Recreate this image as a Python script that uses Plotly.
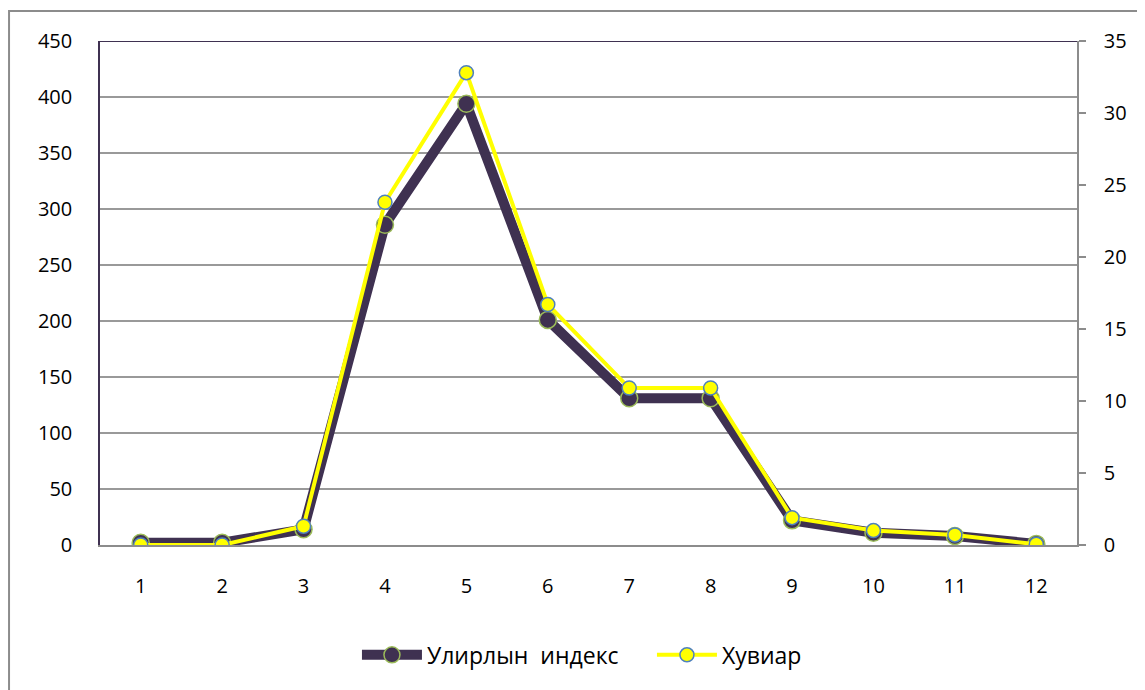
import plotly.graph_objects as go

categories = [1, 2, 3, 4, 5, 6, 7, 8, 9, 10, 11, 12]
index_values = [2, 2, 14, 286, 394, 201, 131, 131, 22, 11, 8, 1]
percent_values = [0.0, 0.0, 1.3, 23.8, 32.8, 16.7, 10.9, 10.9, 1.9, 1.0, 0.7, 0.05]
left_ticks = [0, 50, 100, 150, 200, 250, 300, 350, 400, 450]
right_ticks = [0, 5, 10, 15, 20, 25, 30, 35]

FONT = "'Open Sans', Lato, sans-serif"
DARK = "#3F3151"

fig = go.Figure()
fig.add_trace(go.Scatter(
    x=categories, y=index_values, name="Улирлын  индекс", mode="lines+markers",
    line=dict(color=DARK, width=10),
    marker=dict(size=17, color=DARK, line=dict(color="#9BBB59", width=1.5)),
    yaxis="y",
))
fig.add_trace(go.Scatter(
    x=categories, y=percent_values, name="Хувиар", mode="lines+markers",
    line=dict(color="#FFFF00", width=4),
    marker=dict(size=14, color="#FFFF00", line=dict(color="#4F81BD", width=1.5)),
    yaxis="y2",
))

fig.update_layout(
    width=1145, height=690,
    margin=dict(l=92, r=76, t=33, b=153),
    paper_bgcolor="white", plot_bgcolor="white",
    font=dict(family=FONT, size=20, color="black"),
    showlegend=True,
    legend=dict(orientation="h", x=0.263, xanchor="left", y=-0.218, yanchor="middle",
                font=dict(size=23), itemwidth=60, traceorder="normal",
                entrywidth=220, entrywidthmode="pixels"),
    xaxis=dict(range=[0.5, 12.5], tickvals=categories, ticktext=[str(c) for c in categories],
               showgrid=False, zeroline=False, showline=True, linecolor="#8C8C8C", linewidth=1.5,
               ticks="", ticklabelstandoff=22),
    yaxis=dict(range=[0, 450], tickvals=left_ticks, showgrid=True, gridcolor="#999999", gridwidth=1.5,
               zeroline=False, showline=True, linecolor=DARK, linewidth=1.5, ticks="",
               ticklabelstandoff=22),
    yaxis2=dict(range=[0, 35], tickvals=right_ticks, overlaying="y", side="right", showgrid=False,
                zeroline=False, showline=True, linecolor="#8C8C8C", linewidth=1.5,
                ticks="outside", ticklen=7, tickcolor="#8C8C8C", tickwidth=1.5,
                ticklabelstandoff=14),
    shapes=[
        dict(type="line", xref="paper", yref="y", x0=0, x1=1, y0=450, y1=450,
             line=dict(color=DARK, width=2), layer="between"),
        dict(type="rect", xref="paper", yref="paper", x0=-0.0931, x1=1.0645, y0=-0.32, y1=1.0595,
             line=dict(color="#8C8C8C", width=2), fillcolor="rgba(0,0,0,0)", layer="below"),
    ],
)

fig.write_html("out.html")
